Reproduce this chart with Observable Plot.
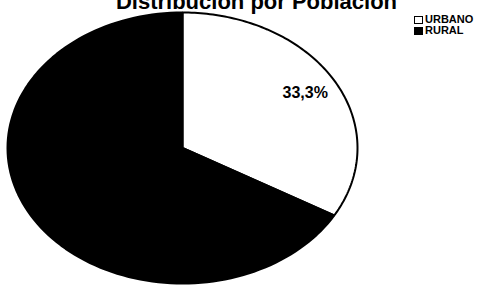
<!DOCTYPE html>
<html>
<head>
<meta charset="utf-8">
<script src="https://cdn.jsdelivr.net/npm/d3@7"></script>
<script src="https://cdn.jsdelivr.net/npm/@observablehq/plot@0.6"></script>
<style>
  html, body { margin: 0; padding: 0; background: #fff; }
  #wrap { position: relative; width: 495px; height: 285px; overflow: hidden; background: #fff; font-family: Arial, "Liberation Sans", sans-serif; }
  #title { position: absolute; left: 0; width: 513px; top: -9px; line-height: 22px; text-align: center; font-weight: bold; font-size: 22px; color: #000; white-space: nowrap; }
  #legend { position: absolute; left: 414px; top: 14px; font-weight: bold; font-size: 11px; line-height: 11px; color: #000; }
  #legend .row { display: flex; align-items: center; height: 11px; line-height: 11px; }
  #legend .sw { width: 9px; height: 8px; border: 1.5px solid #000; box-sizing: border-box; margin-right: 2px; }
  #chart { position: absolute; left: 0; top: 0; }
</style>
</head>
<body>
<div id="wrap">
  <div id="chart"></div>
  <div id="title">Distribución por Población</div>
  <div id="legend"></div>
</div>
<script>
const titleText = "Distribución por Población";
const categories = ["URBANO", "RURAL"];
const values = [33.3, 66.7];
const valueLabels = ["33,3%", "66,7%"];
const sliceColors = ["#ffffff", "#000000"];
const labelColors = ["#000000", "#000000"];

document.getElementById("title").textContent = titleText;

const arcs = d3.pie().sort(null)(values);

function slicePoints(a) {
  const n = 120;
  const pts = [{x: 0, y: 0}];
  for (let k = 0; k <= n; k++) {
    const t = a.startAngle + (a.endAngle - a.startAngle) * k / n;
    pts.push({x: Math.sin(t), y: Math.cos(t)});
  }
  pts.push({x: 0, y: 0});
  return pts;
}

const labelData = arcs.map((a, i) => {
  const m = (a.startAngle + a.endAngle) / 2;
  return {x: 0.81 * Math.sin(m), y: 0.81 * Math.cos(m), text: valueLabels[i], color: labelColors[i]};
});

const chart = Plot.plot({
  width: 495,
  height: 285,
  margin: 0,
  style: {background: "transparent", fontFamily: "Arial, 'Liberation Sans', sans-serif"},
  x: {domain: [-1, 1], range: [7, 357], axis: null},
  y: {domain: [-1, 1], range: [283, 12], axis: null},
  marks: [
    ...arcs.map((a, i) => Plot.line(slicePoints(a), {
      x: "x", y: "y", fill: sliceColors[i], stroke: "#000", strokeWidth: 2, strokeLinejoin: "miter"
    })),
    Plot.text(labelData, {x: "x", y: "y", text: "text", fill: "color", fontSize: 16, fontWeight: "bold"})
  ]
});
document.getElementById("chart").appendChild(chart);

const legend = document.getElementById("legend");
categories.forEach((c, i) => {
  const row = document.createElement("div");
  row.className = "row";
  const sw = document.createElement("div");
  sw.className = "sw";
  sw.style.background = sliceColors[i];
  const t = document.createElement("span");
  t.textContent = c;
  row.appendChild(sw);
  row.appendChild(t);
  legend.appendChild(row);
});
</script>
</body>
</html>
